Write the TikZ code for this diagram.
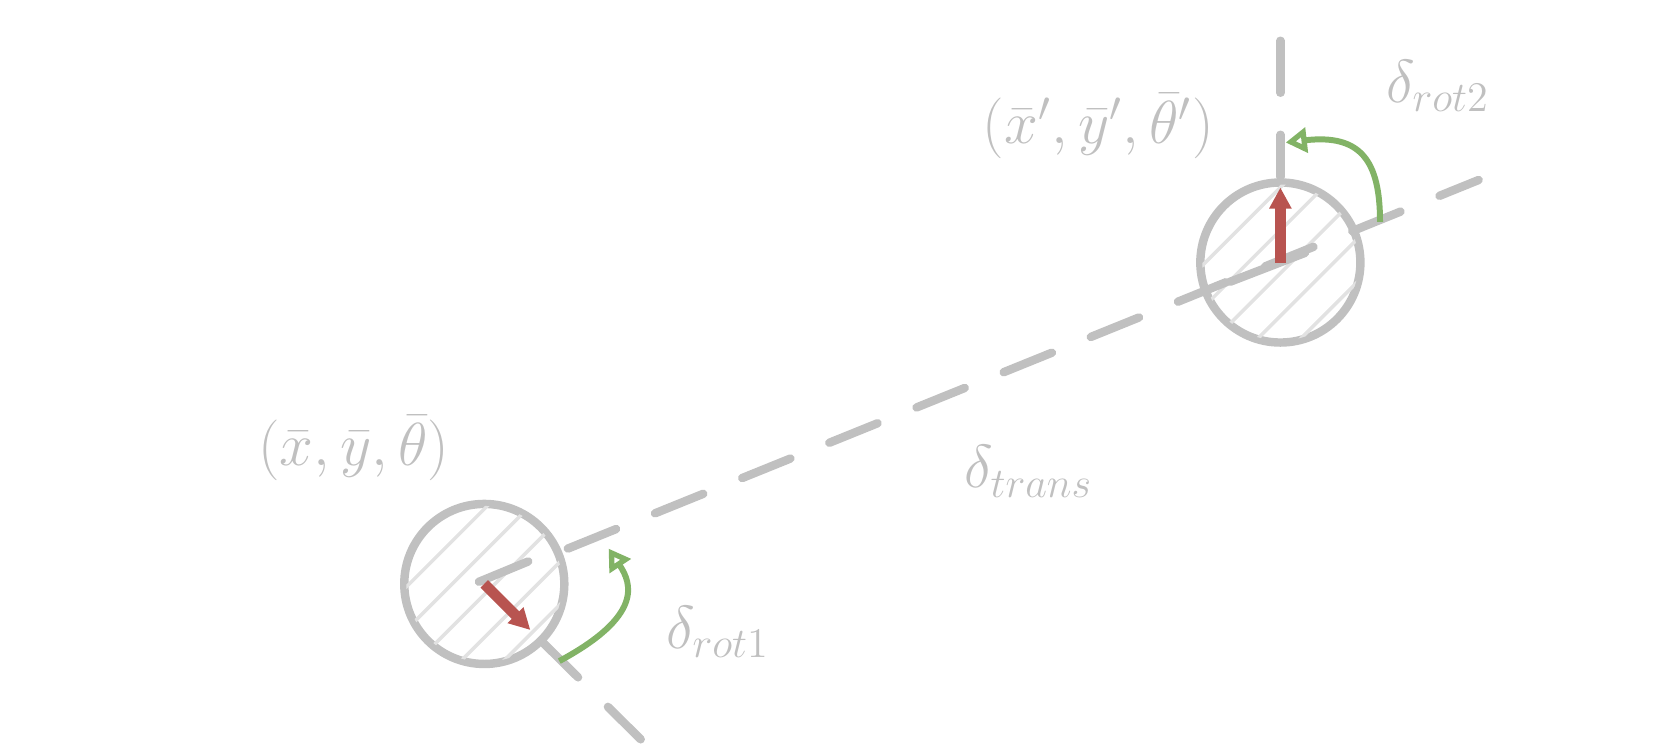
\documentclass[tikz,border=0pt]{standalone}
\usepackage{amsmath}
\usetikzlibrary{arrows.meta,positioning}
\definecolor{sketchgray}{HTML}{C0C0C0}
\definecolor{hatchgray}{HTML}{E2E2E2}
\definecolor{headred}{HTML}{B85450}
\definecolor{rotgreen}{HTML}{82B366}
\tikzset{
  robot/.style={circle,draw=sketchgray,line width=2.4pt,minimum size=1.6cm,inner sep=0pt},
  path line/.style={draw=sketchgray,line width=2.4pt,dash pattern=on 0.52cm off 0.42cm,line cap=round},
  heading/.style={draw=headred,line width=3pt,-{Triangle[length=6pt,width=6pt]}},
  rot arc/.style={draw=rotgreen,line width=1.7pt,-{Triangle[open,length=6pt,width=7pt]}},
  lbl/.style={text=sketchgray,font=\LARGE}
}
\begin{document}
\begin{tikzpicture}[x=0.010714cm,y=-0.010714cm]
  \node[robot] (R1) at (452,545) {};
  \node[robot] (R2) at (1195,245) {};

  % hatching inside the robots
  \foreach \c in {R1,R2}{
    \begin{scope}
      \clip (\c) circle (0.78cm);
      \foreach \k in {-150,-110,...,150}
        \draw[hatchgray,line width=1pt] ([shift={(\k-80,80)}]\c.center) -- ([shift={(\k+80,-80)}]\c.center);
    \end{scope}
  }

  \coordinate (T1) at (530,512);
  \coordinate (T2) at (1380,168);
  \coordinate (V1) at (1195,38);
  \coordinate (V2) at (1195,165);
  \coordinate (H1) at (505,598);
  \coordinate (H2) at (598,690);

  \draw[path line] (T1) -- (T2);
  \draw[path line] (V1) -- (V2);
  \draw[path line] (H1) -- (H2);
  \draw[sketchgray,line width=2.4pt,line cap=round] (447,543) -- (493,524);
  \draw[sketchgray,line width=2.4pt,line cap=round] (1148,263) -- (1218,236);

  \draw[heading] (R1.center) -- (495,588);
  \draw[heading] (R2.center) -- (1195,175);

  \draw[rot arc] (522,617) .. controls (600,575) and (590,545) .. (568,512);
  \draw[rot arc] (1288,207) .. controls (1288,150) and (1270,125) .. (1200,133);

  \node[lbl] (P1) at (330,418) {$(\bar{x},\bar{y},\bar{\theta})$};
  \node[lbl] (P2) at (1025,118) {$(\bar{x}',\bar{y}',\bar{\theta}')$};
  \node[lbl] (D1) at (670,590) {$\delta_{rot1}$};
  \node[lbl] (D2) at (960,440) {$\delta_{trans}$};
  \node[lbl] (D3) at (1342,80) {$\delta_{rot2}$};

  \pgfresetboundingbox
  \path[use as bounding box] (0,0) rectangle (1568,694.4);
\end{tikzpicture}
\end{document}
